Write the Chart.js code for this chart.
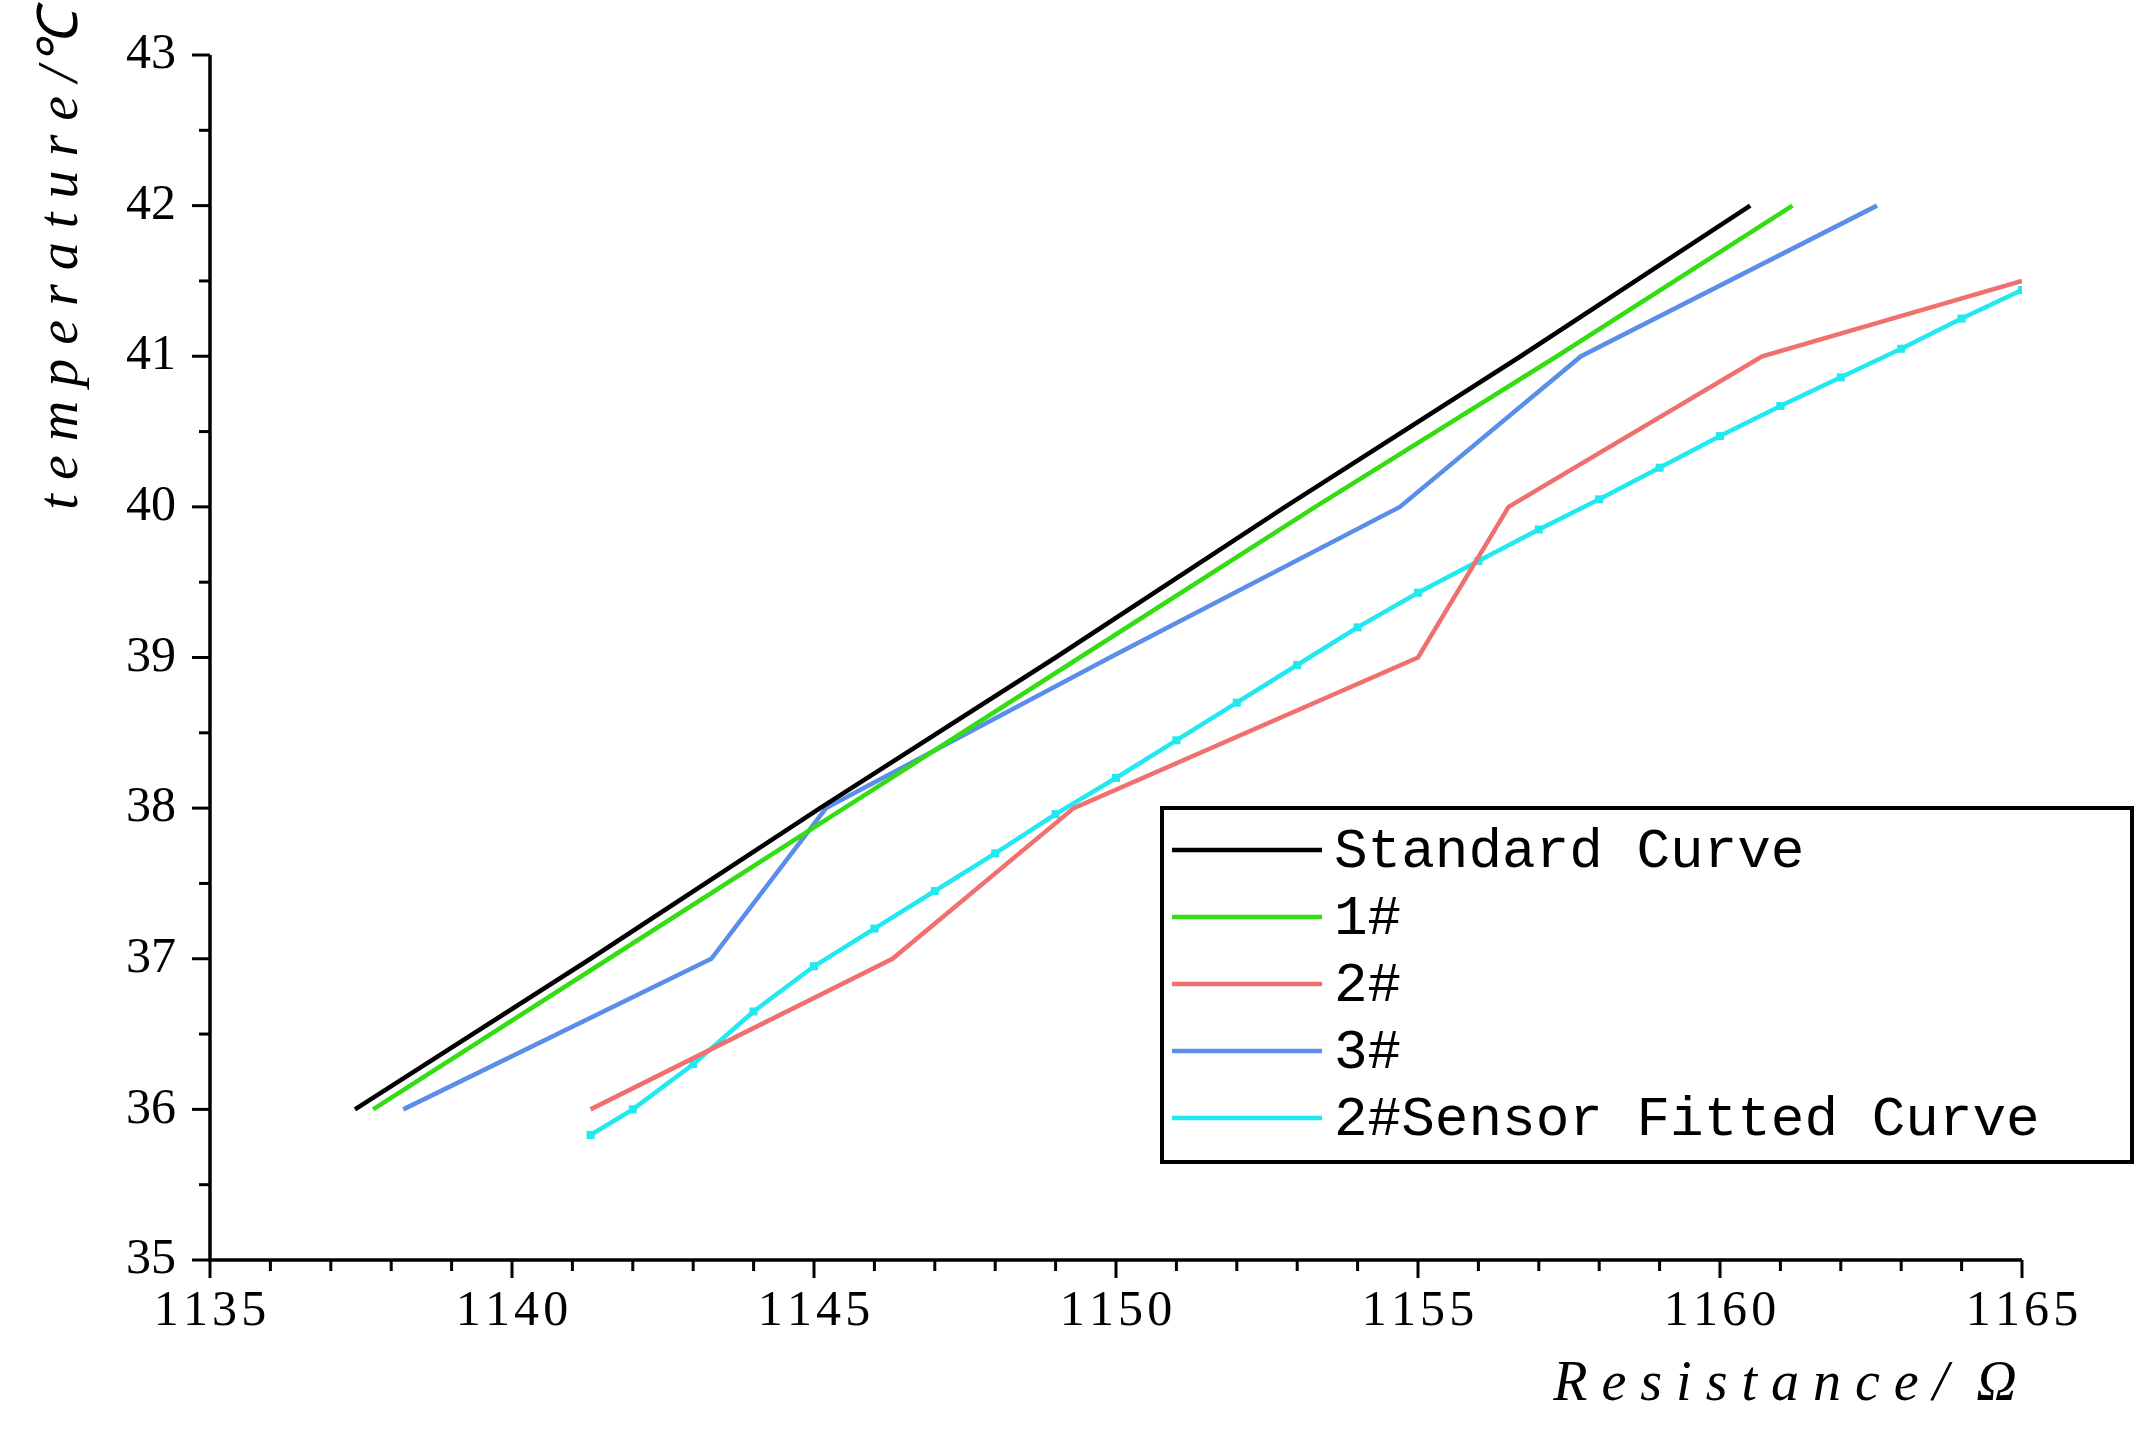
<!DOCTYPE html>
<html><head><meta charset="utf-8">
<script src="https://cdn.jsdelivr.net/npm/chart.js@4/dist/chart.umd.min.js"></script>
<style>html,body{margin:0;padding:0;background:#fff}#w{width:2154px;height:1437px}</style>
</head><body><div id="w"><canvas id="c"></canvas></div>
<script>
const temps=[36,37,38,39,40,41,42];
const stdR=[1137.4,1141.3,1145.1,1149.0,1152.8,1156.7,1160.5];
const s1R=[1137.7,1141.6,1145.5,1149.4,1153.3,1157.3,1161.2];
const s3R=[1138.2,1143.3,1145.2,1149.9,1154.7,1157.7,1162.6];
const s2R=[1141.3,1146.3,1149.3,1155.0,1156.5,1160.7,1165.0];
const s2T=[36,37,38,39,40,41,41.5];
const fitR=[1141.3,1142,1143,1144,1145,1146,1147,1148,1149,1150,1151,1152,1153,1154,1155,1156,1157,1158,1159,1160,1161,1162,1163,1164,1165];
const fitT=[35.83,36.0,36.3,36.65,36.95,37.2,37.45,37.7,37.96,38.2,38.45,38.7,38.95,39.2,39.43,39.64,39.85,40.05,40.26,40.47,40.67,40.86,41.05,41.25,41.44];
const xTicks=[1135,1140,1145,1150,1155,1160,1165];
const yTicks=[35,36,37,38,39,40,41,42,43];
const legendLabels=['Standard Curve','1#','2#','3#','2#Sensor Fitted Curve'];
const colors=['#000000','#33dd11','#f07070','#5a8ee8','#22e8f0'];
const pts=(xs,ys)=>xs.map((x,i)=>({x,y:ys[i]}));
const ds=[
 {data:pts(stdR,temps)},{data:pts(s1R,temps)},{data:pts(s2R,s2T)},{data:pts(s3R,temps)},
 {data:pts(fitR,fitT),pointRadius:2.5,pointStyle:'rect'}
].map((d,i)=>Object.assign({label:legendLabels[i],borderColor:colors[i],backgroundColor:colors[i],borderWidth:4.5,pointRadius:0,showLine:true,tension:0},d));
const deco={id:'deco',afterDraw(ch){
 const c=ch.ctx,xs=ch.scales.x,ys=ch.scales.y,a=ch.chartArea;
 c.save();c.strokeStyle='#000';c.lineWidth=3.5;
 c.beginPath();c.moveTo(a.left,a.top);c.lineTo(a.left,a.bottom);c.lineTo(a.right,a.bottom);c.stroke();
 c.lineWidth=3;
 for(let v=1135;v<=1165;v++){const p=xs.getPixelForValue(v);const L=v%5===0?18:11;c.beginPath();c.moveTo(p,a.bottom);c.lineTo(p,a.bottom+L);c.stroke();}
 for(let v=35;v<=43;v+=0.5){const p=ys.getPixelForValue(v);const L=Number.isInteger(v)?18:11;c.beginPath();c.moveTo(a.left,p);c.lineTo(a.left-L,p);c.stroke();}
 c.fillStyle='#000';c.font='50px "Liberation Serif"';c.textAlign='center';c.textBaseline='middle';
 xTicks.forEach(v=>c.fillText(String(v).split('').join('\u200a'),xs.getPixelForValue(v),a.bottom+52));
 c.textAlign='right';
 yTicks.forEach(v=>c.fillText(v,a.left-34,ys.getPixelForValue(v)));
 c.font='italic 56px "Liberation Serif"';c.textAlign='center';
 c.fillText('R e s i s t a n c e /  Ω',1785,1385);
 c.save();c.translate(62,260);c.rotate(-Math.PI/2);c.fillText('t e m p e r a t u r e /℃',0,0);c.restore();
 const lx=1162,ly=808,lw=970,lh=354;
 c.fillStyle='#fff';c.fillRect(lx,ly,lw,lh);c.lineWidth=4;c.strokeStyle='#000';c.strokeRect(lx,ly,lw,lh);
 c.font='56px "Liberation Mono"';c.textAlign='left';
 legendLabels.forEach((t,i)=>{const y=ly+42+i*67;c.strokeStyle=colors[i];c.lineWidth=4.5;c.beginPath();c.moveTo(lx+10,y);c.lineTo(lx+160,y);c.stroke();c.fillStyle='#000';c.fillText(t,lx+172,y+2,lw-180);});
 c.restore();}};
new Chart(document.getElementById('c'),{type:'scatter',data:{datasets:ds},plugins:[deco],
 options:{responsive:true,maintainAspectRatio:false,animation:false,
 layout:{padding:{top:55,right:132,left:0,bottom:0}},
 plugins:{legend:{display:false},tooltip:{enabled:false}},
 scales:{
  x:{type:'linear',min:1135,max:1165,grid:{display:false},border:{display:false},ticks:{display:false},afterFit(s){s.height=177;}},
  y:{type:'linear',min:35,max:43,grid:{display:false},border:{display:false},ticks:{display:false},afterFit(s){s.width=210;}}
 }}});
</script></body></html>
